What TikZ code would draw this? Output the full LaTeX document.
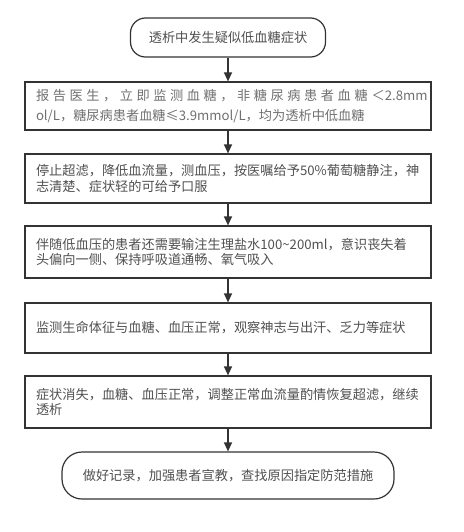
\documentclass[tikz,border=0pt]{standalone}
\usepackage{fontspec}
\setmainfont{Noto Sans CJK SC}
\usetikzlibrary{arrows.meta}
\definecolor{edge}{HTML}{333333}
\definecolor{txt}{HTML}{505050}
\definecolor{txtlight}{HTML}{707070}
\tikzset{
  stepbox/.style={draw=edge, line width=1.2pt, rectangle, minimum width=406pt,
    text width=384pt, align=left, inner sep=0pt, text=txt,
    font=\fontsize{13.2}{15.5}\selectfont},
  termbox/.style={draw=edge, line width=1.2pt, rectangle, align=center, text=txt,
    inner sep=0pt, font=\fontsize{13.2}{15.5}\selectfont},
  flow/.style={draw=edge, line width=1.2pt, -{Triangle[width=8pt,length=9pt]}}
}
\begin{document}
\begin{tikzpicture}[x=1pt,y=-1pt]
\useasboundingbox (0,0) rectangle (463,532);
\node[termbox, minimum width=195pt, minimum height=39pt, rounded corners=15pt] (n1) at (228,37.5) {透析中发生疑似低血糖症状};
\node[stepbox, minimum height=48pt, text=txtlight, font=\fontsize{13.2}{20}\selectfont] (n2) at (228,106)
  {\mbox{{\addfontfeature{LetterSpace=27}报告医生，立即监测血糖，非糖尿病患者血糖}\hspace{4pt}＜2.8mm}\\ol/L，糖尿病患者血糖≤3.9mmol/L，均为透析中低血糖};
\node[stepbox, minimum height=49pt] (n3) at (228,178.5)
  {停止超滤，降低血流量，测血压，按医嘱给予50\%葡萄糖静注，神\\志清楚、症状轻的可给予口服};
\node[stepbox, minimum height=52pt] (n4) at (228,252)
  {伴随低血压的患者还需要输注生理盐水100\textasciitilde200ml，意识丧失着\\头偏向一侧、保持呼吸道通畅、氧气吸入};
\node[stepbox, minimum height=50pt] (n5) at (228,328)
  {监测生命体征与血糖、血压正常，观察神志与出汗、乏力等症状};
\node[stepbox, minimum height=52pt] (n6) at (228,402)
  {症状消失，血糖、血压正常，调整正常血流量酌情恢复超滤，继续\\透析};
\node[termbox, minimum width=332pt, minimum height=47pt, rounded corners=20pt] (n7) at (228,475.5)
  {做好记录，加强患者宣教，查找原因指定防范措施};
\draw[flow] (n1) -- (n2);
\draw[flow] (n2) -- (n3);
\draw[flow] (n3) -- (n4);
\draw[flow] (n4) -- (n5);
\draw[flow] (n5) -- (n6);
\draw[flow] (n6) -- (n7);
\end{tikzpicture}
\end{document}
